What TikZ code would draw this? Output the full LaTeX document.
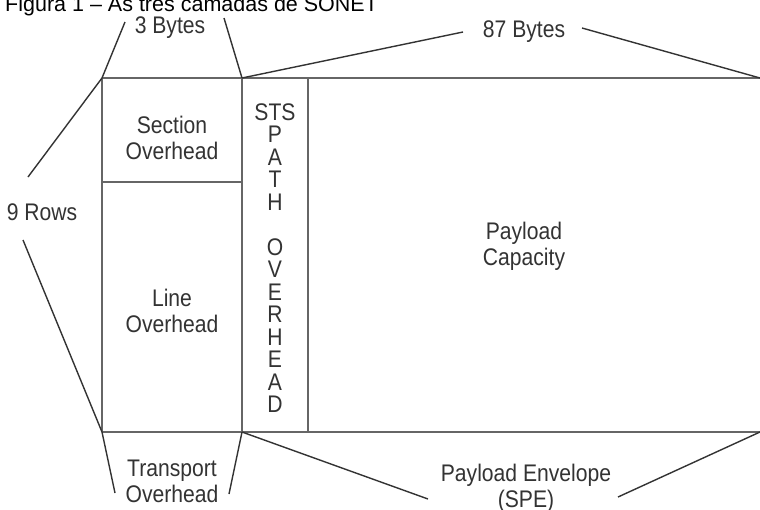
\documentclass[tikz,border=0pt]{standalone}
\usepackage{fontspec}
\setmainfont{Liberation Sans}
\newfontfamily\cond[FakeStretch=0.88]{Liberation Sans}
\begin{document}
\begin{tikzpicture}[x=1pt,y=-1pt,
  frame/.style={line width=2pt,draw=black!60},
  pointer/.style={line width=1.4pt,draw=black!80},
  lbl/.style={font=\cond\fontsize{24}{26}\selectfont,text=black!80,align=center,inner sep=0pt},
  title/.style={font=\fontsize{21.5}{24}\selectfont,text=black,inner sep=0pt,anchor=base west}]
\useasboundingbox (0,0) rectangle (760,509);
\fill[white] (0,0) rectangle (760,509);
% corners
\coordinate (TL) at (102,78);
\coordinate (A)  at (242,78);
\coordinate (C)  at (308,78);
\coordinate (TR) at (760,78);
\coordinate (BL) at (102,432);
\coordinate (B)  at (242,432);
\coordinate (D)  at (308,432);
\coordinate (BR) at (760,432);
\coordinate (M)  at (102,182);
\coordinate (N)  at (242,182);
% frame
\draw[frame] (TL) -- (TR);
\draw[frame] (BL) -- (BR);
\draw[frame] (TL) -- (BL);
\draw[frame] (A) -- (B);
\draw[frame] (C) -- (D);
\draw[frame] (M) -- (N);
% title
\node[title] (ttl) at (5,11) {Figura 1 – As três camadas de SONET};
% labels
\node[lbl] (b3) at (170,28) {3 Bytes};
\node[lbl] (b87) at (524,32) {87 Bytes};
\node[lbl] (rows) at (42,212) {9 Rows};
\node[lbl] (sec) at (172,138) {Section\\Overhead};
\node[lbl] (line) at (172,311) {Line\\Overhead};
\node[lbl] (pay) at (524,246) {Payload\\Capacity};
\node[lbl,font=\cond\fontsize{24}{22.5}\selectfont] (sts) at (275,258)
  {STS\\P\\A\\T\\H\\[22.5pt]O\\V\\E\\R\\H\\E\\A\\D};
\node[lbl] (tro) at (172,481) {Transport\\Overhead};
\node[lbl] (spe) at (526,488) {Payload Envelope\\(SPE)};
% free ends
\coordinate (b3l) at (125,22);
\coordinate (b3r) at (224,18);
\coordinate (b87l) at (463,32);
\coordinate (b87r) at (582,28);
\coordinate (rwu) at (28,177);
\coordinate (rwd) at (23,240);
\coordinate (trl) at (115,493);
\coordinate (trr) at (229,494);
\coordinate (spl) at (428,499);
\coordinate (spr) at (618,497);
% pointers
\draw[pointer] (TL) -- (b3l);
\draw[pointer] (A) -- (b3r);
\draw[pointer] (A) -- (b87l);
\draw[pointer] (TR) -- (b87r);
\draw[pointer] (TL) -- (rwu);
\draw[pointer] (BL) -- (rwd);
\draw[pointer] (BL) -- (trl);
\draw[pointer] (B) -- (trr);
\draw[pointer] (B) -- (spl);
\draw[pointer] (BR) -- (spr);
\end{tikzpicture}
\end{document}
